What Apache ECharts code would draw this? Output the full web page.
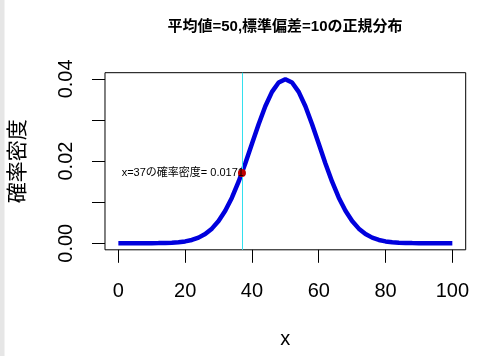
<!DOCTYPE html>
<html>
<head>
<meta charset="utf-8">
<script src="https://cdn.jsdelivr.net/npm/echarts@6/dist/echarts.min.js"></script>
<style>html,body{margin:0;padding:0;background:#fff}#c{width:478px;height:356px}</style>
</head>
<body>
<div id="c"></div>
<script>
// x values and density values
var xValues = [0,2,4,6,8,10,12,14,16,18,20,22,24,26,28,30,32,34,36,38,40,42,44,46,48,50,
               52,54,56,58,60,62,64,66,68,70,72,74,76,78,80,82,84,86,88,90,92,94,96,98,100];
var densityValues = [0.0000002,0.0000004,0.000001,0.0000025,0.0000059,0.0000134,0.0000292,0.0000612,0.000123,0.000238,
                     0.000443,0.000792,0.00136,0.00224,0.00355,0.0054,0.0079,0.01109,0.01497,0.01942,
                     0.0242,0.02897,0.03332,0.03683,0.0391,0.03989,
                     0.0391,0.03683,0.03332,0.02897,0.0242,0.01942,0.01497,0.01109,0.0079,0.0054,
                     0.00355,0.00224,0.00136,0.000792,0.000443,0.000238,0.000123,0.0000612,0.0000292,0.0000134,
                     0.0000059,0.0000025,0.000001,0.0000004,0.0000002];
var xTicks = [0,20,40,60,80,100];
var yTicks = [0,0.01,0.02,0.03,0.04];
var yTickLabels = [0,0.02,0.04];
var pointX = 37;
var pointY = 0.0171;
var titleText = '平均値=50,標準偏差=10の正規分布';
var xName = 'x';
var yName = '確率密度';

var curve = xValues.map(function(x,i){return [x, densityValues[i]];});
var font = '"Liberation Sans", Arial, "Noto Sans CJK JP", sans-serif';

var chart = echarts.init(document.getElementById('c'));
chart.setOption({
  animation:false,
  backgroundColor:'#fff',
  title:{text:titleText,left:280,top:14,textAlign:'center',
    textStyle:{fontFamily:font,fontSize:15,fontWeight:'bold',color:'#000'}},
  graphic:[
    {type:'rect',left:0,top:0,shape:{width:4,height:356},style:{fill:'#e6e6e6'}},
    {type:'rect',left:4,top:0,shape:{width:1,height:356},style:{fill:'#f2f2f2'}}
  ],
  grid:{left:104.7,right:12.3,top:72.7,bottom:106.2,show:true,borderColor:'#000',borderWidth:1,backgroundColor:'transparent'},
  xAxis:{type:'value',min:-4,max:104,
    name:xName,nameLocation:'middle',nameGap:80,
    nameTextStyle:{fontFamily:font,fontSize:20,color:'#000'},
    axisLine:{show:false,onZero:false},
    splitLine:{show:false},
    axisTick:{show:true,length:13,customValues:xTicks,lineStyle:{color:'#000',width:1}},
    axisLabel:{customValues:xTicks,margin:32,fontFamily:font,fontSize:20,color:'#000'}},
  yAxis:{type:'value',min:-0.0016,max:0.0415,
    name:yName,nameLocation:'middle',nameGap:76,nameRotate:90,
    nameTextStyle:{fontFamily:font,fontSize:21,color:'#000'},
    axisLine:{show:false,onZero:false},
    splitLine:{show:false},
    axisTick:{show:true,length:13,customValues:yTicks,lineStyle:{color:'#000',width:1}},
    axisLabel:{customValues:yTickLabels,rotate:90,margin:29,fontFamily:font,fontSize:20,color:'#000',
      formatter:function(v){return v.toFixed(2);}}},
  series:[
    {type:'line',data:curve,showSymbol:false,smooth:false,z:2,
      lineStyle:{color:'#0000dd',width:4.5},
      markLine:{silent:true,symbol:'none',label:{show:false},
        lineStyle:{color:'#33e0ee',width:1,type:'solid'},
        data:[{xAxis:pointX}]}},
    {type:'scatter',data:[[pointX,pointY]],symbolSize:8,z:10,
      itemStyle:{color:'#c00000',opacity:1},
      label:{show:true,position:'left',distance:-6,
        formatter:'x=' + pointX + 'の確率密度= ' + pointY,
        fontFamily:font,fontSize:11,color:'#000'}}
  ]
});
</script>
</body>
</html>
